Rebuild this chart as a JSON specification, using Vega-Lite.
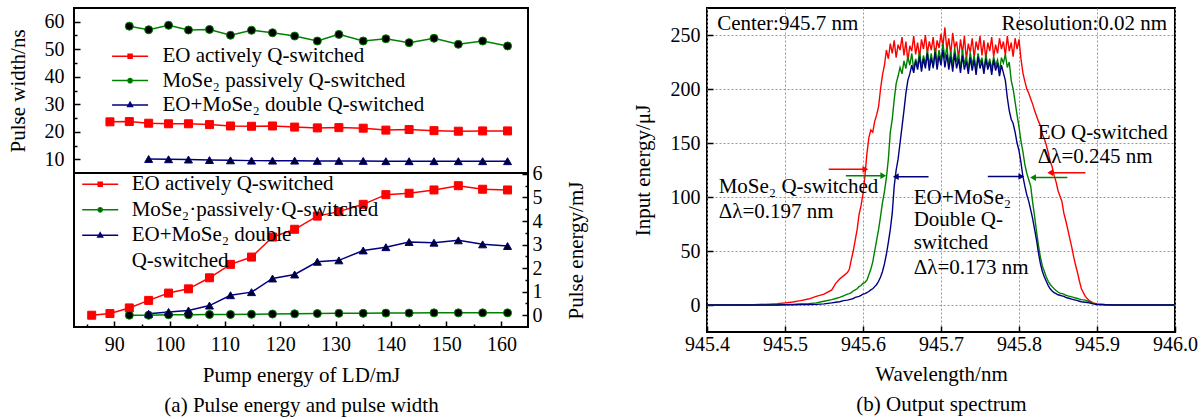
{
  "$schema": "https://vega.github.io/schema/vega-lite/v6.json",
  "background": "white",
  "padding": {"left": 6, "top": 7, "right": 0, "bottom": 4},
  "config": {
    "font": "Liberation Serif",
    "view": {"stroke": "black", "strokeWidth": 2},
    "axis": {
      "labelFont": "Liberation Serif", "labelFontSize": 20, "labelColor": "black",
      "titleFont": "Liberation Serif", "titleFontSize": 21, "titleFontWeight": "normal", "titleColor": "black",
      "tickColor": "black", "tickWidth": 1.5, "domain": false, "grid": false,
      "labelFlush": false, "labelOverlap": false
    },
    "text": {"font": "Liberation Serif", "fontSize": 21, "color": "black"}
  },
  "datasets": {
    "pw": [
      {"s":"EO","x":89.2,"y":23.6},{"s":"EO","x":92.7,"y":23.7},{"s":"EO","x":96.2,"y":23.1},{"s":"EO","x":99.8,"y":22.9},{"s":"EO","x":103.4,"y":22.9},{"s":"EO","x":107.2,"y":22.6},{"s":"EO","x":111.0,"y":22.1},{"s":"EO","x":114.8,"y":22.0},{"s":"EO","x":118.6,"y":22.1},{"s":"EO","x":122.6,"y":21.7},{"s":"EO","x":126.7,"y":21.4},{"s":"EO","x":130.6,"y":21.5},{"s":"EO","x":135.0,"y":21.3},{"s":"EO","x":139.1,"y":20.6},{"s":"EO","x":143.3,"y":20.8},{"s":"EO","x":147.8,"y":20.4},{"s":"EO","x":152.2,"y":20.2},{"s":"EO","x":156.6,"y":20.3},{"s":"EO","x":161.1,"y":20.3},
      {"s":"MoSe2","x":92.7,"y":58.4},{"s":"MoSe2","x":96.2,"y":57.1},{"s":"MoSe2","x":99.8,"y":58.7},{"s":"MoSe2","x":103.4,"y":57.0},{"s":"MoSe2","x":107.2,"y":57.2},{"s":"MoSe2","x":111.0,"y":55.1},{"s":"MoSe2","x":114.8,"y":56.9},{"s":"MoSe2","x":118.6,"y":56.0},{"s":"MoSe2","x":122.6,"y":54.8},{"s":"MoSe2","x":126.7,"y":53.0},{"s":"MoSe2","x":130.6,"y":55.4},{"s":"MoSe2","x":135.0,"y":53.0},{"s":"MoSe2","x":139.1,"y":53.8},{"s":"MoSe2","x":143.3,"y":52.4},{"s":"MoSe2","x":147.8,"y":54.0},{"s":"MoSe2","x":152.2,"y":51.8},{"s":"MoSe2","x":156.6,"y":53.0},{"s":"MoSe2","x":161.1,"y":51.2},
      {"s":"Double","x":96.2,"y":10.1},{"s":"Double","x":99.8,"y":10.0},{"s":"Double","x":103.4,"y":9.9},{"s":"Double","x":107.2,"y":9.7},{"s":"Double","x":111.0,"y":9.6},{"s":"Double","x":114.8,"y":9.5},{"s":"Double","x":118.6,"y":9.5},{"s":"Double","x":122.6,"y":9.5},{"s":"Double","x":126.7,"y":9.4},{"s":"Double","x":130.6,"y":9.4},{"s":"Double","x":135.0,"y":9.4},{"s":"Double","x":139.1,"y":9.3},{"s":"Double","x":143.3,"y":9.3},{"s":"Double","x":147.8,"y":9.3},{"s":"Double","x":152.2,"y":9.3},{"s":"Double","x":156.6,"y":9.3},{"s":"Double","x":161.1,"y":9.3}
    ],
    "pe": [
      {"s":"EO","x":85.9,"y":0},{"s":"EO","x":89.2,"y":0.07},{"s":"EO","x":92.7,"y":0.31},{"s":"EO","x":96.2,"y":0.63},{"s":"EO","x":99.8,"y":0.94},{"s":"EO","x":103.4,"y":1.12},{"s":"EO","x":107.2,"y":1.59},{"s":"EO","x":111.0,"y":2.16},{"s":"EO","x":114.8,"y":2.47},{"s":"EO","x":118.6,"y":3.32},{"s":"EO","x":122.6,"y":3.65},{"s":"EO","x":126.7,"y":4.21},{"s":"EO","x":130.6,"y":4.40},{"s":"EO","x":135.0,"y":4.71},{"s":"EO","x":139.1,"y":5.12},{"s":"EO","x":143.3,"y":5.18},{"s":"EO","x":147.8,"y":5.32},{"s":"EO","x":152.2,"y":5.5},{"s":"EO","x":156.6,"y":5.35},{"s":"EO","x":161.1,"y":5.32},
      {"s":"MoSe2","x":92.7,"y":0},{"s":"MoSe2","x":96.2,"y":0},{"s":"MoSe2","x":99.8,"y":0.02},{"s":"MoSe2","x":103.4,"y":0.02},{"s":"MoSe2","x":107.2,"y":0.03},{"s":"MoSe2","x":111.0,"y":0.03},{"s":"MoSe2","x":114.8,"y":0.04},{"s":"MoSe2","x":118.6,"y":0.05},{"s":"MoSe2","x":122.6,"y":0.06},{"s":"MoSe2","x":126.7,"y":0.07},{"s":"MoSe2","x":130.6,"y":0.08},{"s":"MoSe2","x":135.0,"y":0.08},{"s":"MoSe2","x":139.1,"y":0.09},{"s":"MoSe2","x":143.3,"y":0.09},{"s":"MoSe2","x":147.8,"y":0.1},{"s":"MoSe2","x":152.2,"y":0.1},{"s":"MoSe2","x":156.6,"y":0.1},{"s":"MoSe2","x":161.1,"y":0.1},
      {"s":"Double","x":96.2,"y":0.06},{"s":"Double","x":99.8,"y":0.14},{"s":"Double","x":103.4,"y":0.2},{"s":"Double","x":107.2,"y":0.41},{"s":"Double","x":111.0,"y":0.85},{"s":"Double","x":114.8,"y":0.98},{"s":"Double","x":118.6,"y":1.56},{"s":"Double","x":122.6,"y":1.73},{"s":"Double","x":126.7,"y":2.27},{"s":"Double","x":130.6,"y":2.33},{"s":"Double","x":135.0,"y":2.75},{"s":"Double","x":139.1,"y":2.89},{"s":"Double","x":143.3,"y":3.11},{"s":"Double","x":147.8,"y":3.08},{"s":"Double","x":152.2,"y":3.18},{"s":"Double","x":156.6,"y":3.01},{"s":"Double","x":161.1,"y":2.94}
    ],
    "spec": [
      {"w":945.40,"EO":0,"MoSe2":0,"Double":0},
      {"w":945.43,"EO":0,"MoSe2":0,"Double":0},
      {"w":945.46,"EO":0.3,"MoSe2":0,"Double":0},
      {"w":945.48,"EO":0.8,"MoSe2":0,"Double":0},
      {"w":945.49,"EO":1.2,"MoSe2":0.2,"Double":0},
      {"w":945.50,"EO":2,"MoSe2":0.4,"Double":0.2},
      {"w":945.51,"EO":2.8,"MoSe2":0.6,"Double":0.3},
      {"w":945.52,"EO":4,"MoSe2":0.9,"Double":0.4},
      {"w":945.53,"EO":5.5,"MoSe2":1.3,"Double":0.4},
      {"w":945.54,"EO":8,"MoSe2":2,"Double":0.6},
      {"w":945.55,"EO":10,"MoSe2":3.5,"Double":1},
      {"w":945.56,"EO":14,"MoSe2":5,"Double":2},
      {"w":945.565,"EO":20,"MoSe2":6,"Double":2.5},
      {"w":945.57,"EO":24,"MoSe2":7,"Double":3},
      {"w":945.575,"EO":27,"MoSe2":8.5,"Double":4},
      {"w":945.58,"EO":30,"MoSe2":10,"Double":4.5},
      {"w":945.5825,"EO":33,"MoSe2":10.5,"Double":5},
      {"w":945.585,"EO":42,"MoSe2":11.5,"Double":5.5},
      {"w":945.5875,"EO":50,"MoSe2":13,"Double":6},
      {"w":945.59,"EO":60,"MoSe2":14,"Double":7},
      {"w":945.5925,"EO":70,"MoSe2":15,"Double":7.5},
      {"w":945.595,"EO":84,"MoSe2":17,"Double":8},
      {"w":945.5975,"EO":92,"MoSe2":18,"Double":9},
      {"w":945.60,"EO":103,"MoSe2":20,"Double":10},
      {"w":945.6025,"EO":120,"MoSe2":21,"Double":10.5},
      {"w":945.605,"EO":140,"MoSe2":23,"Double":11.5},
      {"w":945.6075,"EO":155,"MoSe2":28,"Double":12.5},
      {"w":945.61,"EO":162,"MoSe2":33,"Double":14},
      {"w":945.6125,"EO":160,"MoSe2":40,"Double":15},
      {"w":945.615,"EO":170,"MoSe2":50,"Double":17},
      {"w":945.6175,"EO":176,"MoSe2":60,"Double":19},
      {"w":945.62,"EO":184,"MoSe2":70,"Double":22},
      {"w":945.6225,"EO":200,"MoSe2":82,"Double":26},
      {"w":945.625,"EO":213,"MoSe2":95,"Double":31},
      {"w":945.6275,"EO":222,"MoSe2":105,"Double":38},
      {"w":945.63,"EO":236,"MoSe2":118,"Double":47},
      {"w":945.6325,"EO":228,"MoSe2":135,"Double":58},
      {"w":945.635,"EO":242,"MoSe2":160,"Double":70},
      {"w":945.6375,"EO":233,"MoSe2":172,"Double":85},
      {"w":945.64,"EO":245,"MoSe2":190,"Double":110},
      {"w":945.6425,"EO":229,"MoSe2":205,"Double":125},
      {"w":945.645,"EO":241,"MoSe2":212,"Double":135},
      {"w":945.6475,"EO":236,"MoSe2":220,"Double":150},
      {"w":945.65,"EO":248,"MoSe2":214,"Double":165},
      {"w":945.6525,"EO":231,"MoSe2":226,"Double":180},
      {"w":945.655,"EO":244,"MoSe2":219,"Double":196},
      {"w":945.6575,"EO":226,"MoSe2":230,"Double":208},
      {"w":945.66,"EO":240,"MoSe2":222,"Double":214},
      {"w":945.6625,"EO":235,"MoSe2":233,"Double":222},
      {"w":945.665,"EO":249,"MoSe2":218,"Double":215},
      {"w":945.6675,"EO":232,"MoSe2":228,"Double":226},
      {"w":945.67,"EO":243,"MoSe2":221,"Double":218},
      {"w":945.6725,"EO":229,"MoSe2":235,"Double":230},
      {"w":945.675,"EO":246,"MoSe2":220,"Double":216},
      {"w":945.6775,"EO":237,"MoSe2":231,"Double":228},
      {"w":945.68,"EO":250,"MoSe2":223,"Double":219},
      {"w":945.6825,"EO":233,"MoSe2":236,"Double":233},
      {"w":945.685,"EO":244,"MoSe2":222,"Double":217},
      {"w":945.6875,"EO":236,"MoSe2":233,"Double":229},
      {"w":945.69,"EO":248,"MoSe2":219,"Double":220},
      {"w":945.6925,"EO":230,"MoSe2":238,"Double":234},
      {"w":945.695,"EO":245,"MoSe2":224,"Double":218},
      {"w":945.6975,"EO":238,"MoSe2":236,"Double":231},
      {"w":945.70,"EO":251,"MoSe2":226,"Double":222},
      {"w":945.7025,"EO":240,"MoSe2":242,"Double":236},
      {"w":945.705,"EO":257,"MoSe2":228,"Double":220},
      {"w":945.7075,"EO":236,"MoSe2":239,"Double":232},
      {"w":945.71,"EO":247,"MoSe2":223,"Double":218},
      {"w":945.7125,"EO":232,"MoSe2":235,"Double":230},
      {"w":945.715,"EO":252,"MoSe2":221,"Double":216},
      {"w":945.7175,"EO":238,"MoSe2":238,"Double":233},
      {"w":945.72,"EO":244,"MoSe2":225,"Double":219},
      {"w":945.7225,"EO":228,"MoSe2":232,"Double":228},
      {"w":945.725,"EO":246,"MoSe2":219,"Double":215},
      {"w":945.7275,"EO":233,"MoSe2":236,"Double":231},
      {"w":945.73,"EO":249,"MoSe2":223,"Double":218},
      {"w":945.7325,"EO":227,"MoSe2":230,"Double":226},
      {"w":945.735,"EO":242,"MoSe2":218,"Double":214},
      {"w":945.7375,"EO":234,"MoSe2":234,"Double":229},
      {"w":945.74,"EO":247,"MoSe2":222,"Double":217},
      {"w":945.7425,"EO":229,"MoSe2":231,"Double":227},
      {"w":945.745,"EO":244,"MoSe2":217,"Double":213},
      {"w":945.7475,"EO":236,"MoSe2":233,"Double":230},
      {"w":945.75,"EO":249,"MoSe2":224,"Double":219},
      {"w":945.7525,"EO":231,"MoSe2":229,"Double":226},
      {"w":945.755,"EO":245,"MoSe2":216,"Double":214},
      {"w":945.7575,"EO":228,"MoSe2":232,"Double":228},
      {"w":945.76,"EO":243,"MoSe2":221,"Double":218},
      {"w":945.7625,"EO":235,"MoSe2":228,"Double":225},
      {"w":945.765,"EO":248,"MoSe2":218,"Double":213},
      {"w":945.7675,"EO":230,"MoSe2":230,"Double":227},
      {"w":945.77,"EO":241,"MoSe2":222,"Double":217},
      {"w":945.7725,"EO":233,"MoSe2":227,"Double":224},
      {"w":945.775,"EO":247,"MoSe2":216,"Double":212},
      {"w":945.7775,"EO":237,"MoSe2":229,"Double":222},
      {"w":945.78,"EO":244,"MoSe2":224,"Double":215},
      {"w":945.7825,"EO":231,"MoSe2":232,"Double":208},
      {"w":945.785,"EO":249,"MoSe2":220,"Double":192},
      {"w":945.7875,"EO":235,"MoSe2":225,"Double":180},
      {"w":945.79,"EO":243,"MoSe2":208,"Double":172},
      {"w":945.7925,"EO":230,"MoSe2":200,"Double":168},
      {"w":945.795,"EO":247,"MoSe2":188,"Double":160},
      {"w":945.7975,"EO":237,"MoSe2":176,"Double":150},
      {"w":945.80,"EO":246,"MoSe2":165,"Double":143},
      {"w":945.8025,"EO":228,"MoSe2":152,"Double":132},
      {"w":945.805,"EO":215,"MoSe2":142,"Double":119},
      {"w":945.8075,"EO":207,"MoSe2":130,"Double":110},
      {"w":945.81,"EO":200,"MoSe2":122,"Double":102},
      {"w":945.8125,"EO":196,"MoSe2":116,"Double":96},
      {"w":945.815,"EO":191,"MoSe2":110,"Double":88},
      {"w":945.8175,"EO":186,"MoSe2":95,"Double":80},
      {"w":945.82,"EO":180,"MoSe2":82,"Double":70},
      {"w":945.8225,"EO":175,"MoSe2":68,"Double":60},
      {"w":945.825,"EO":170,"MoSe2":55,"Double":48},
      {"w":945.8275,"EO":166,"MoSe2":44,"Double":38},
      {"w":945.83,"EO":158,"MoSe2":36,"Double":31},
      {"w":945.8325,"EO":154,"MoSe2":31,"Double":26},
      {"w":945.835,"EO":148,"MoSe2":26,"Double":22},
      {"w":945.8375,"EO":141,"MoSe2":22,"Double":18},
      {"w":945.84,"EO":133,"MoSe2":19,"Double":15},
      {"w":945.8425,"EO":128,"MoSe2":17,"Double":13},
      {"w":945.845,"EO":120,"MoSe2":15,"Double":11.5},
      {"w":945.8475,"EO":114,"MoSe2":13.5,"Double":10.5},
      {"w":945.85,"EO":106,"MoSe2":12,"Double":9.5},
      {"w":945.8525,"EO":101,"MoSe2":11,"Double":9},
      {"w":945.855,"EO":96,"MoSe2":10.5,"Double":8.5},
      {"w":945.8575,"EO":85,"MoSe2":10,"Double":8},
      {"w":945.86,"EO":78,"MoSe2":9,"Double":7},
      {"w":945.8625,"EO":70,"MoSe2":8.5,"Double":6.5},
      {"w":945.865,"EO":62,"MoSe2":8,"Double":6},
      {"w":945.8675,"EO":54,"MoSe2":7.5,"Double":5.5},
      {"w":945.87,"EO":45,"MoSe2":7,"Double":5},
      {"w":945.8725,"EO":37,"MoSe2":6.5,"Double":4.5},
      {"w":945.875,"EO":30,"MoSe2":6,"Double":4},
      {"w":945.8775,"EO":22,"MoSe2":5.5,"Double":3.5},
      {"w":945.88,"EO":15,"MoSe2":5,"Double":3},
      {"w":945.885,"EO":8,"MoSe2":4.5,"Double":2.5},
      {"w":945.89,"EO":4,"MoSe2":3,"Double":2},
      {"w":945.895,"EO":2,"MoSe2":1.5,"Double":1},
      {"w":945.90,"EO":1,"MoSe2":0.8,"Double":0.5},
      {"w":945.91,"EO":0.4,"MoSe2":0.3,"Double":0.2},
      {"w":945.92,"EO":0.1,"MoSe2":0.1,"Double":0},
      {"w":945.94,"EO":0,"MoSe2":0,"Double":0},
      {"w":945.97,"EO":0,"MoSe2":0,"Double":0},
      {"w":946.00,"EO":0,"MoSe2":0,"Double":0}
    ],
    "arrows": [
      {"s":"EO","x1":945.556,"x2":945.603,"y":125.6,"d":"right"},
      {"s":"MoSe2","x1":945.578,"x2":945.626,"y":119.7,"d":"right"},
      {"s":"Double","x1":945.684,"x2":945.642,"y":118.8,"d":"left"},
      {"s":"Double","x1":945.760,"x2":945.803,"y":119,"d":"right"},
      {"s":"MoSe2","x1":945.862,"x2":945.818,"y":118,"d":"left"},
      {"s":"EO","x1":945.885,"x2":945.840,"y":122.5,"d":"left"}
    ],
    "notes": [
      {"w":945.413,"v":260,"t":"Center:945.7 nm"},
      {"w":945.824,"v":159,"t":"EO Q-switched"},
      {"w":945.824,"v":137,"t":"Δλ=0.245 nm"},
      {"w":945.415,"v":109.5,"t":"MoSe₂ Q-switched"},
      {"w":945.415,"v":86.4,"t":"Δλ=0.197 nm"},
      {"w":945.665,"v":98.8,"t":"EO+MoSe₂"},
      {"w":945.665,"v":78.7,"t":"Double Q-"},
      {"w":945.665,"v":57.1,"t":"switched"},
      {"w":945.665,"v":34,"t":"Δλ=0.173 nm"}
    ],
    "notesRight": [
      {"w":945.99,"v":260,"t":"Resolution:0.02 nm"}
    ]
  },
  "spacing": 44,
  "hconcat": [
    {
      "spacing": 0,
      "bounds": "flush",
      "vconcat": [
        {
          "width": 454, "height": 165,
          "data": {"name": "pw"},
          "resolve": {"scale": {"fill": "independent", "stroke": "independent", "shape": "independent"}},
          "encoding": {
            "x": {"field": "x", "type": "quantitative", "scale": {"domain": [82.7, 164.8], "nice": false, "zero": false}, "axis": null},
            "y": {"field": "y", "type": "quantitative", "scale": {"domain": [5, 65], "nice": false, "zero": false},
              "axis": {"title": "Pulse width/ns", "values": [10,15,20,25,30,35,40,45,50,55,60],
                "labelFont": "Liberation Serif", "labelFontSize": 20,
                "titleFont": "Liberation Serif", "titleFontSize": 21,
                "labelExpr": "datum.value % 10 == 0 ? format(datum.value, 'd') : ''",
                "tickSize": {"condition": {"test": "datum.value % 10 == 0", "value": -6}, "value": -3},
                "labelPadding": 16, "titlePadding": 16}}
          },
          "layer": [
            {"mark": {"type": "line", "strokeWidth": 1.5},
             "encoding": {"color": {"field": "s", "type": "nominal", "scale": {"domain": ["EO","MoSe2","Double"], "range": ["#ff0000","#008000","#000080"]}, "legend": null}}},
            {"mark": {"type": "point", "filled": true, "size": 64, "strokeWidth": 1, "opacity": 1},
             "encoding": {
               "fill": {"field": "s", "type": "nominal", "scale": {"domain": ["EO","MoSe2","Double"], "range": ["#ff0000","#000000","#000022"]}, "legend": null},
               "stroke": {"field": "s", "type": "nominal", "scale": {"domain": ["EO","MoSe2","Double"], "range": ["#ff0000","#008000","#000080"]}, "legend": null},
               "shape": {"field": "s", "type": "nominal", "scale": {"domain": ["EO","MoSe2","Double"], "range": ["square","circle","triangle-up"]}, "legend": null}
             }},
            {"transform": [{"filter": "false"}],
             "mark": {"type": "point", "filled": true, "opacity": 1},
             "encoding": {
               "fill": {"field": "s", "type": "nominal", "scale": {"domain": ["EO actively Q-switched","MoSe₂ passively Q-switched","EO+MoSe₂ double Q-switched"], "range": ["#ff0000","#000000","#000022"]},
                 "legend": {"orient": "none", "legendX": 45.6, "legendY": 37.8, "title": null, "labelFont": "Liberation Serif", "labelFontSize": 21, "labelColor": "black", "labelOffset": 21.8, "symbolSize": 144, "symbolStrokeWidth": 1.5, "rowPadding": 2.3, "padding": 0, "labelLimit": 400, "symbolOpacity": 1}},
               "stroke": {"field": "s", "type": "nominal", "scale": {"domain": ["EO actively Q-switched","MoSe₂ passively Q-switched","EO+MoSe₂ double Q-switched"], "range": ["#ff0000","#008000","#000080"]},
                 "legend": {"orient": "none", "legendX": 45.6, "legendY": 37.8, "title": null, "labelFont": "Liberation Serif", "labelFontSize": 21, "labelColor": "black", "labelOffset": 21.8, "symbolSize": 144, "symbolStrokeWidth": 1.5, "rowPadding": 2.3, "padding": 0, "labelLimit": 400, "symbolOpacity": 1}},
               "shape": {"field": "s", "type": "nominal", "scale": {"domain": ["EO actively Q-switched","MoSe₂ passively Q-switched","EO+MoSe₂ double Q-switched"], "range": ["M-3,0H3M-0.33,-0.33H0.33V0.33H-0.33Z","M-3,0H3M0.36,0A0.36,0.36,0,1,1,-0.36,0A0.36,0.36,0,1,1,0.36,0Z","M-3,0H3M0,-0.42L0.4,0.28H-0.4Z"]},
                 "legend": {"orient": "none", "legendX": 45.6, "legendY": 37.8, "title": null, "labelFont": "Liberation Serif", "labelFontSize": 21, "labelColor": "black", "labelOffset": 21.8, "symbolSize": 144, "symbolStrokeWidth": 1.5, "rowPadding": 2.3, "padding": 0, "labelLimit": 400, "symbolOpacity": 1}}
             }}
          ]
        },
        {
          "width": 454, "height": 154,
          "data": {"name": "pe"},
          "resolve": {"scale": {"fill": "independent", "stroke": "independent", "shape": "independent"}},
          "encoding": {
            "x": {"field": "x", "type": "quantitative", "scale": {"domain": [82.7, 164.8], "nice": false, "zero": false},
              "axis": {"title": ["Pump energy of LD/mJ", "(a) Pulse energy and pulse width"], "titleLineHeight": 30,
                "labelFont": "Liberation Serif", "labelFontSize": 20,
                "titleFont": "Liberation Serif", "titleFontSize": 21,
                "values": [85,90,95,100,105,110,115,120,125,130,135,140,145,150,155,160],
                "labelExpr": "datum.value % 10 == 0 ? format(datum.value, 'd') : ''",
                "tickSize": {"condition": {"test": "datum.value % 10 == 0", "value": -6}, "value": -3},
                "labelPadding": 13, "titlePadding": 7}},
            "y": {"field": "y", "type": "quantitative", "scale": {"domain": [-0.5, 6.04], "nice": false, "zero": false},
              "axis": {"orient": "right", "title": "Pulse energy/mJ", "titleAngle": 270, "titleBaseline": "top",
                "labelFont": "Liberation Serif", "labelFontSize": 20,
                "titleFont": "Liberation Serif", "titleFontSize": 21,
                "values": [0,0.5,1,1.5,2,2.5,3,3.5,4,4.5,5,5.5,6],
                "labelExpr": "datum.value % 1 == 0 ? format(datum.value, 'd') : ''",
                "tickSize": {"condition": {"test": "datum.value % 1 == 0", "value": -6}, "value": -3},
                "labelPadding": 10, "titlePadding": 23}}
          },
          "layer": [
            {"mark": {"type": "line", "strokeWidth": 1.5},
             "encoding": {"color": {"field": "s", "type": "nominal", "scale": {"domain": ["EO","MoSe2","Double"], "range": ["#ff0000","#008000","#000080"]}, "legend": null}}},
            {"mark": {"type": "point", "filled": true, "size": 64, "strokeWidth": 1, "opacity": 1},
             "encoding": {
               "fill": {"field": "s", "type": "nominal", "scale": {"domain": ["EO","MoSe2","Double"], "range": ["#ff0000","#000000","#000022"]}, "legend": null},
               "stroke": {"field": "s", "type": "nominal", "scale": {"domain": ["EO","MoSe2","Double"], "range": ["#ff0000","#008000","#000080"]}, "legend": null},
               "shape": {"field": "s", "type": "nominal", "scale": {"domain": ["EO","MoSe2","Double"], "range": ["square","circle","triangle-up"]}, "legend": null}
             }},
            {"transform": [{"filter": "false"}],
             "mark": {"type": "point", "filled": true, "opacity": 1},
             "encoding": {
               "fill": {"field": "s", "type": "nominal", "scale": {"domain": ["EO actively Q-switched","MoSe₂·passively·Q-switched","EO+MoSe₂ double","Q-switched"], "range": ["#ff0000","#000000","#000022","transparent"]},
                 "legend": {"orient": "none", "legendX": 15.7, "legendY": 0.8, "title": null, "labelFont": "Liberation Serif", "labelFontSize": 21, "labelColor": "black", "labelOffset": 21, "symbolSize": 144, "symbolStrokeWidth": 1.5, "rowPadding": 3.5, "padding": 0, "labelLimit": 400, "symbolOpacity": 1}},
               "stroke": {"field": "s", "type": "nominal", "scale": {"domain": ["EO actively Q-switched","MoSe₂·passively·Q-switched","EO+MoSe₂ double","Q-switched"], "range": ["#ff0000","#008000","#000080","transparent"]},
                 "legend": {"orient": "none", "legendX": 15.7, "legendY": 0.8, "title": null, "labelFont": "Liberation Serif", "labelFontSize": 21, "labelColor": "black", "labelOffset": 21, "symbolSize": 144, "symbolStrokeWidth": 1.5, "rowPadding": 3.5, "padding": 0, "labelLimit": 400, "symbolOpacity": 1}},
               "shape": {"field": "s", "type": "nominal", "scale": {"domain": ["EO actively Q-switched","MoSe₂·passively·Q-switched","EO+MoSe₂ double","Q-switched"], "range": ["M-3,0H3M-0.33,-0.33H0.33V0.33H-0.33Z","M-3,0H3M0.36,0A0.36,0.36,0,1,1,-0.36,0A0.36,0.36,0,1,1,0.36,0Z","M-3,0H3M0,-0.42L0.4,0.28H-0.4Z","M0,0"]},
                 "legend": {"orient": "none", "legendX": 15.7, "legendY": 0.8, "title": null, "labelFont": "Liberation Serif", "labelFontSize": 21, "labelColor": "black", "labelOffset": 21, "symbolSize": 144, "symbolStrokeWidth": 1.5, "rowPadding": 3.5, "padding": 0, "labelLimit": 400, "symbolOpacity": 1}}
             }}
          ]
        }
      ]
    },
    {
      "width": 468, "height": 324,
      "layer": [
        {"data": {"name": "spec"},
         "transform": [{"fold": ["EO","MoSe2","Double"], "as": ["s","v"]}],
         "mark": {"type": "line", "strokeWidth": 1.4},
         "encoding": {
           "x": {"field": "w", "type": "quantitative", "scale": {"domain": [945.4, 946.0], "nice": false, "zero": false},
             "axis": {"title": ["Wavelength/nm", "(b) Output spectrum"], "titleLineHeight": 30,
               "labelFont": "Liberation Serif", "labelFontSize": 20,
               "titleFont": "Liberation Serif", "titleFontSize": 21,
               "values": [945.4,945.45,945.5,945.55,945.6,945.65,945.7,945.75,945.8,945.85,945.9,945.95,946.0],
               "labelExpr": "abs(datum.value*10 - round(datum.value*10)) < 0.01 ? format(datum.value, '.1f') : ''",
               "tickSize": {"condition": {"test": "abs(datum.value*10 - round(datum.value*10)) < 0.01", "value": -6}, "value": -3},
               "labelPadding": 8, "titlePadding": 9,
               "grid": true, "gridColor": "#999999", "gridDash": [2, 2], "gridWidth": 1,
               "gridOpacity": {"condition": {"test": "abs(datum.value*10 - round(datum.value*10)) < 0.01", "value": 1}, "value": 0}}},
           "y": {"field": "v", "type": "quantitative", "scale": {"domain": [-25, 275], "nice": false, "zero": false},
             "axis": {"title": "Input energy/μJ",
               "labelFont": "Liberation Serif", "labelFontSize": 20,
               "titleFont": "Liberation Serif", "titleFontSize": 21,
               "values": [0,25,50,75,100,125,150,175,200,225,250],
               "labelExpr": "datum.value % 50 == 0 ? format(datum.value, 'd') : ''",
               "tickSize": {"condition": {"test": "datum.value % 50 == 0", "value": -6}, "value": -3},
               "labelPadding": 13, "titlePadding": 17,
               "grid": true, "gridColor": "#999999", "gridDash": [2, 2], "gridWidth": 1,
               "gridOpacity": {"condition": {"test": "datum.value % 50 == 0", "value": 1}, "value": 0}}},
           "color": {"field": "s", "type": "nominal", "scale": {"domain": ["EO","MoSe2","Double"], "range": ["#ff0000","#008000","#000080"]}, "legend": null}
         }},
        {"data": {"name": "arrows"},
         "mark": {"type": "rule", "strokeWidth": 1.5},
         "encoding": {
           "x": {"field": "x1", "type": "quantitative", "scale": {"domain": [945.4, 946.0], "nice": false, "zero": false}},
           "x2": {"field": "x2"},
           "y": {"field": "y", "type": "quantitative", "scale": {"domain": [-25, 275], "nice": false, "zero": false}},
           "color": {"field": "s", "type": "nominal", "scale": {"domain": ["EO","MoSe2","Double"], "range": ["#ff0000","#008000","#000080"]}, "legend": null}
         }},
        {"data": {"name": "arrows"},
         "transform": [{"filter": "datum.d == 'right'"}],
         "mark": {"type": "point", "shape": "triangle-right", "filled": true, "size": 45, "opacity": 1},
         "encoding": {
           "x": {"field": "x2", "type": "quantitative", "scale": {"domain": [945.4, 946.0], "nice": false, "zero": false}},
           "y": {"field": "y", "type": "quantitative", "scale": {"domain": [-25, 275], "nice": false, "zero": false}},
           "color": {"field": "s", "type": "nominal", "scale": {"domain": ["EO","MoSe2","Double"], "range": ["#ff0000","#008000","#000080"]}, "legend": null}
         }},
        {"data": {"name": "arrows"},
         "transform": [{"filter": "datum.d == 'left'"}],
         "mark": {"type": "point", "shape": "triangle-left", "filled": true, "size": 45, "opacity": 1},
         "encoding": {
           "x": {"field": "x2", "type": "quantitative", "scale": {"domain": [945.4, 946.0], "nice": false, "zero": false}},
           "y": {"field": "y", "type": "quantitative", "scale": {"domain": [-25, 275], "nice": false, "zero": false}},
           "color": {"field": "s", "type": "nominal", "scale": {"domain": ["EO","MoSe2","Double"], "range": ["#ff0000","#008000","#000080"]}, "legend": null}
         }},
        {"data": {"name": "notes"},
         "mark": {"type": "text", "align": "left", "baseline": "middle", "fontSize": 21, "font": "Liberation Serif", "color": "black"},
         "encoding": {
           "x": {"field": "w", "type": "quantitative", "scale": {"domain": [945.4, 946.0], "nice": false, "zero": false}},
           "y": {"field": "v", "type": "quantitative", "scale": {"domain": [-25, 275], "nice": false, "zero": false}},
           "text": {"field": "t", "type": "nominal"}
         }},
        {"data": {"name": "notesRight"},
         "mark": {"type": "text", "align": "right", "baseline": "middle", "fontSize": 21, "font": "Liberation Serif", "color": "black"},
         "encoding": {
           "x": {"field": "w", "type": "quantitative", "scale": {"domain": [945.4, 946.0], "nice": false, "zero": false}},
           "y": {"field": "v", "type": "quantitative", "scale": {"domain": [-25, 275], "nice": false, "zero": false}},
           "text": {"field": "t", "type": "nominal"}
         }}
      ]
    }
  ]
}
